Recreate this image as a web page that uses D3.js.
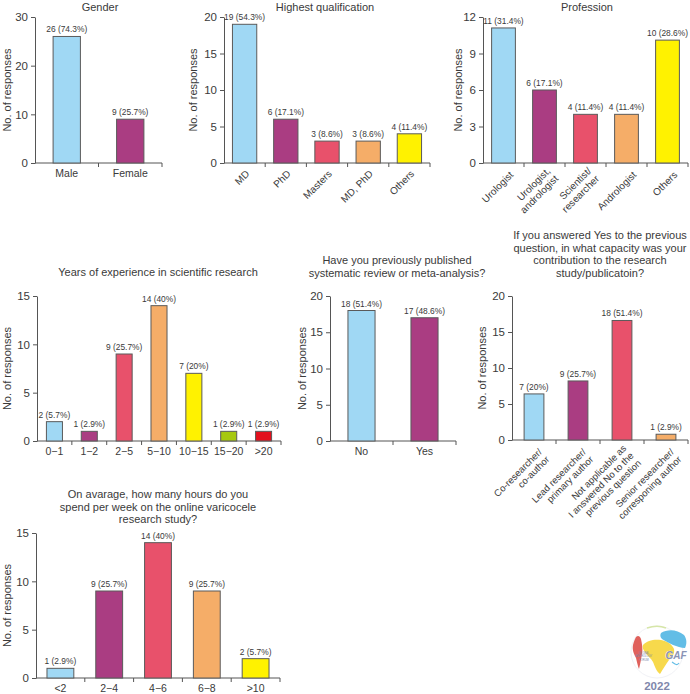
<!DOCTYPE html>
<html><head><meta charset="utf-8">
<script src="https://cdn.jsdelivr.net/npm/d3@7"></script>
<style>
body{margin:0;background:#fff;}
svg{display:block;font-family:"Liberation Sans",Arial,Helvetica,sans-serif;}
</style></head>
<body>
<svg id="c" width="690" height="694"></svg>
<script>
// ---------- data ----------
const genderCats = ["Male","Female"];
const genderVals = [26, 9];
const genderLabels = ["26 (74.3%)","9 (25.7%)"];

const qualCats = ["MD","PhD","Masters","MD, PhD","Others"];
const qualVals = [19, 6, 3, 3, 4];
const qualLabels = ["19 (54.3%)","6 (17.1%)","3 (8.6%)","3 (8.6%)","4 (11.4%)"];

const profCats = [["Urologist"],["Urologist,","andrologist"],["Scientist/","researcher"],["Andrologist"],["Others"]];
const profVals = [11.1, 6, 4, 4, 10.1];
const profLabels = ["11 (31.4%)","6 (17.1%)","4 (11.4%)","4 (11.4%)","10 (28.6%)"];

const yearsCats = ["0\u22121","1\u22122","2\u22125","5\u221210","10\u221215","15\u221220",">20"];
const yearsVals = [2, 1, 9, 14, 7, 1, 1];
const yearsLabels = ["2 (5.7%)","1 (2.9%)","9 (25.7%)","14 (40%)","7 (20%)","1 (2.9%)","1 (2.9%)"];

const pubCats = ["No","Yes"];
const pubVals = [18, 17];
const pubLabels = ["18 (51.4%)","17 (48.6%)"];

const capCats = [["Co-researcher/","co-author"],["Lead researcher/","primary author"],["Not applicable as","I answered No to the","previous question"],["Senior researcher/","corresponing author"]];
const capVals = [6.4, 8.2, 16.6, 0.8];
const capLabels = ["7 (20%)","9 (25.7%)","18 (51.4%)","1 (2.9%)"];

const hoursCats = ["<2","2\u22124","4\u22126","6\u22128",">10"];
const hoursVals = [1, 9, 14, 9, 2];
const hoursLabels = ["1 (2.9%)","9 (25.7%)","14 (40%)","9 (25.7%)","2 (5.7%)"];

const C = {blue:"#a0d8f4", purple:"#aa3d82", pink:"#e8516b", orange:"#f5ad68", yellow:"#fff200", green:"#a6c80f", red:"#e3101d"};
const fiveColors = [C.blue, C.purple, C.pink, C.orange, C.yellow];
const sevenColors = [C.blue, C.purple, C.pink, C.orange, C.yellow, C.green, C.red];

const svg = d3.select("#c");
const TXT = "#3a3a3a", AX = "#555";

function panel(o){
  const g = svg.append("g");
  const keys = o.cats.map((c,i)=>i);
  const x = d3.scaleBand().domain(keys).range([o.left, o.right]).paddingInner(o.pad).paddingOuter(o.pad/2);
  const y = d3.scaleLinear().domain([0, o.yMax]).range([o.bottom, o.top]);
  const ya = g.append("g").attr("transform",`translate(${o.left},0)`)
    .call(d3.axisLeft(y).tickValues(d3.range(0, o.yMax+0.001, o.step)).tickSize(4).tickSizeOuter(0).tickPadding(3));
  ya.select(".domain").attr("stroke",AX);
  ya.selectAll(".tick line").attr("stroke",AX);
  ya.selectAll(".tick text").attr("fill",TXT).attr("font-size",11.5).attr("font-family","Liberation Sans, Arial, sans-serif");
  g.append("line").attr("x1",o.left).attr("x2",o.right).attr("y1",o.bottom).attr("y2",o.bottom).attr("stroke",AX);
  g.selectAll(".xt").data(d3.range(1, keys.length+1)).join("line")
    .attr("x1",i=>o.left+i*x.step()).attr("x2",i=>o.left+i*x.step())
    .attr("y1",o.bottom).attr("y2",o.bottom+4).attr("stroke",AX);
  g.selectAll("rect").data(o.vals).join("rect")
    .attr("x",(d,i)=>x(i)).attr("width",x.bandwidth())
    .attr("y",d=>y(d)).attr("height",d=>o.bottom-y(d))
    .attr("fill",(d,i)=>o.colors[i]).attr("stroke","#5a5a5a").attr("stroke-width",1);
  g.selectAll(".vl").data(o.vals).join("text")
    .attr("x",(d,i)=>x(i)+x.bandwidth()/2).attr("y",d=>y(d)-4)
    .attr("text-anchor","middle").attr("font-size",8.4).attr("fill",TXT)
    .text((d,i)=>o.labels[i]);
  if(!o.rot){
    g.selectAll(".cl").data(o.cats).join("text")
      .attr("x",(d,i)=>x(i)+x.bandwidth()/2).attr("y",o.bottom+14)
      .attr("text-anchor","middle").attr("font-size",10.5).attr("fill",TXT).text(d=>d);
  } else {
    o.cats.forEach((c,i)=>{
      const lines = Array.isArray(c)?c:[c];
      const t = g.append("text")
        .attr("transform",`translate(${x(i)+x.bandwidth()/2+o.rdx},${o.bottom+o.rdy}) rotate(-45)`)
        .attr("text-anchor","end").attr("font-size",o.rfs||10).attr("fill",TXT);
      lines.forEach((l,j)=>{
        t.append("tspan").attr("x",0)
          .attr("dy", j===0 ? (0.35-(lines.length-1)*0.55)+"em" : "1.1em").text(l);
      });
    });
  }
  g.append("text").attr("transform",`translate(${o.ylx},${(o.top+o.bottom)/2}) rotate(-90)`)
    .attr("text-anchor","middle").attr("dy","0.35em").attr("font-size",11).attr("fill",TXT).text("No. of responses");
  o.title.forEach((l,j)=>{
    g.append("text").attr("x",o.tx).attr("y",o.ty+j*12.5).attr("text-anchor","middle")
      .attr("font-size",11).attr("fill",TXT).text(l);
  });
}

panel({cats:genderCats, vals:genderVals, labels:genderLabels, colors:[C.blue,C.purple],
  left:35, right:162, top:17, bottom:163, yMax:30, step:10, pad:0.57,
  ylx:7, title:["Gender"], tx:100, ty:11});
panel({cats:qualCats, vals:qualVals, labels:qualLabels, colors:fiveColors,
  left:224, right:430, top:17, bottom:163, yMax:20, step:5, pad:0.41, rot:true, rdx:3, rdy:9,
  ylx:193, title:["Highest qualification"], tx:325, ty:11});
panel({cats:profCats, vals:profVals, labels:profLabels, colors:fiveColors,
  left:483, right:688, top:17, bottom:163, yMax:12, step:3, pad:0.42, rot:true, rdx:8, rdy:10,
  ylx:458, title:["Profession"], tx:587, ty:11});
panel({cats:yearsCats, vals:yearsVals, labels:yearsLabels, colors:sevenColors,
  left:37, right:281, top:296, bottom:441, yMax:15, step:5, pad:0.54,
  ylx:7, title:["Years of experience in scientific research"], tx:158, ty:276});
panel({cats:pubCats, vals:pubVals, labels:pubLabels, colors:[C.blue,C.purple],
  left:330, right:456, top:296, bottom:441, yMax:20, step:5, pad:0.57,
  ylx:302, title:["Have you previously published","systematic review or meta-analysis?"], tx:397, ty:264});
panel({cats:capCats, vals:capVals, labels:capLabels, colors:[C.blue,C.purple,C.pink,C.orange],
  left:512, right:688, top:296, bottom:440, yMax:20, step:5, pad:0.55, rot:true, rdx:10, rdy:14, rfs:9.5,
  ylx:482, title:["If you answered Yes to the previous","question, in what capacity was your","contribution to the research","study/publicatoin?"], tx:600, ty:239});
panel({cats:hoursCats, vals:hoursVals, labels:hoursLabels, colors:fiveColors,
  left:36, right:280, top:533, bottom:678, yMax:15, step:5, pad:0.45,
  ylx:7, title:["On avarage, how many hours do you","spend per week on the online varicocele","research study?"], tx:158, ty:498});

// ---------- logo (decorative) ----------
const lg = svg.append("g").attr("transform","translate(657,652)");
lg.append("circle").attr("r",26).attr("fill","none").attr("stroke","#f1f2f6").attr("stroke-width",1);
lg.append("path").attr("d","M-10,-24 C-4,-26 4,-26 9,-24").attr("fill","none").attr("stroke","#d6e6a8").attr("stroke-width",1.5);
lg.append("path").attr("d","M-21,-15 C-19,-17 -17,-16 -16,-13 C-15,-8 -14,-3 -15,2 C-16,8 -17,13 -18,17 C-19,15 -20,10 -21,6 C-23,2 -25,-2 -24,-7 C-23,-11 -22,-13 -21,-15 Z").attr("fill","#e0615c");
lg.append("path").attr("d","M-14,-7 C-10,-12 -2,-13 4,-12 C10,-11 15,-8 17,-3 C18,2 15,5 12,8 C9,12 6,17 3,22 C0,20 -2,15 -4,10 C-6,6 -10,4 -12,0 C-14,-2 -15,-5 -14,-7 Z").attr("fill","#f7d94c");
lg.append("path").attr("d","M4,-19 C10,-23 20,-23 27,-17 C30,-13 30,-8 28,-4 C24,-4 20,-6 16,-7 C12,-9 8,-11 5,-13 C3,-15 3,-17 4,-19 Z").attr("fill","#62bde6");
lg.append("path").attr("d","M15,10 C18,12 20,14 22,11").attr("fill","none").attr("stroke","#62bde6").attr("stroke-width",1.2);
lg.append("text").attr("x",19).attr("y",7).attr("text-anchor","middle").attr("font-size",10).attr("font-weight","bold")
  .attr("font-style","italic").attr("fill","#8a93b5").attr("stroke","#fff").attr("stroke-width",0.6).attr("paint-order","stroke").text("GAF");
lg.append("text").attr("x",-13).attr("y",2).attr("text-anchor","middle").attr("font-size",2.6).attr("fill","#7c84a8").text("GLOBAL");
lg.append("text").attr("x",-13).attr("y",5.3).attr("text-anchor","middle").attr("font-size",2.6).attr("fill","#7c84a8").text("ANDROLOGY");
lg.append("text").attr("x",-13).attr("y",8.6).attr("text-anchor","middle").attr("font-size",2.6).attr("fill","#7c84a8").text("FORUM");
svg.append("text").attr("x",657).attr("y",690).attr("text-anchor","middle").attr("font-size",11.5).attr("font-weight","bold")
  .attr("fill","#7f87ab").text("2022");
</script>
</body></html>
